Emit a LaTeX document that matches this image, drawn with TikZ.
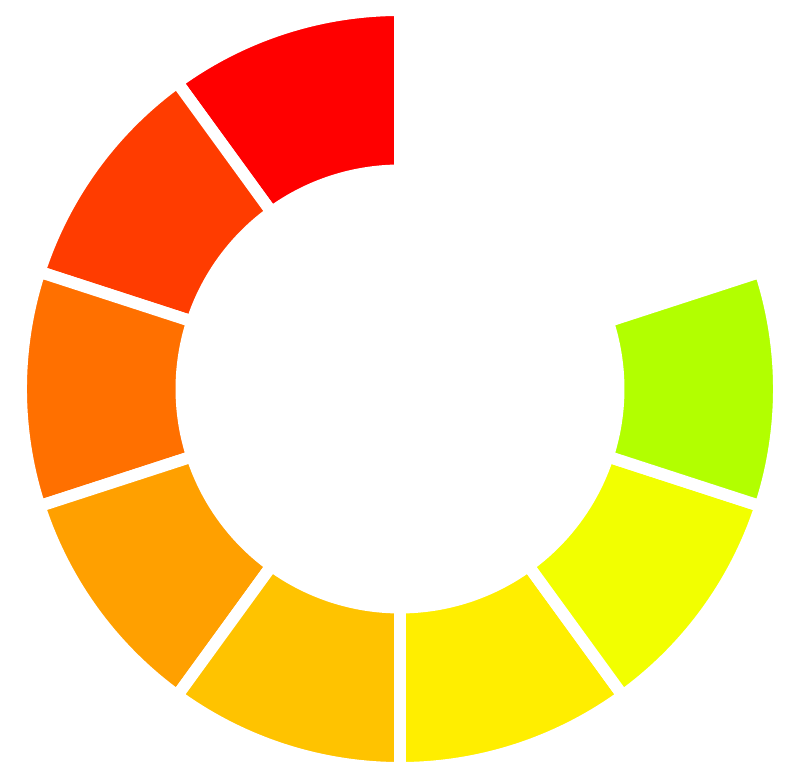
\documentclass[tikz,border=0pt]{standalone}
\usepackage{xcolor}
\usepackage{tikz}
\usetikzlibrary{
  arrows.meta,
  positioning,
  calc,
}
\definecolor{segred}{HTML}{FF0000}
\definecolor{segscarlet}{HTML}{FF3C00}
\definecolor{segorange}{HTML}{FF7000}
\definecolor{segamber}{HTML}{FFA000}
\definecolor{seggold}{HTML}{FFC300}
\definecolor{segyellow}{HTML}{FFEE00}
\definecolor{seglemon}{HTML}{F2FF00}
\definecolor{seglime}{HTML}{B2FF00}

\begin{document}
\begin{tikzpicture}[seg/.style={draw=white, line width=6.8pt, line join=miter}]
  \useasboundingbox (-8.0,-7.82) rectangle (7.9,7.78);
  % ring of sectors, 36 degrees each, outer 7.58 / inner 4.37
  \filldraw[seg, fill=segred]     (90:7.58)  arc[start angle=90,  end angle=126, radius=7.58] -- (126:4.37) arc[start angle=126, end angle=90,  radius=4.37] -- cycle;
  \filldraw[seg, fill=segscarlet] (126:7.58) arc[start angle=126, end angle=162, radius=7.58] -- (162:4.37) arc[start angle=162, end angle=126, radius=4.37] -- cycle;
  \filldraw[seg, fill=segorange]  (162:7.58) arc[start angle=162, end angle=198, radius=7.58] -- (198:4.37) arc[start angle=198, end angle=162, radius=4.37] -- cycle;
  \filldraw[seg, fill=segamber]   (198:7.58) arc[start angle=198, end angle=234, radius=7.58] -- (234:4.37) arc[start angle=234, end angle=198, radius=4.37] -- cycle;
  \filldraw[seg, fill=seggold]    (234:7.58) arc[start angle=234, end angle=270, radius=7.58] -- (270:4.37) arc[start angle=270, end angle=234, radius=4.37] -- cycle;
  \filldraw[seg, fill=segyellow]  (270:7.58) arc[start angle=270, end angle=306, radius=7.58] -- (306:4.37) arc[start angle=306, end angle=270, radius=4.37] -- cycle;
  \filldraw[seg, fill=seglemon]   (306:7.58) arc[start angle=306, end angle=342, radius=7.58] -- (342:4.37) arc[start angle=342, end angle=306, radius=4.37] -- cycle;
  \filldraw[seg, fill=seglime]    (342:7.58) arc[start angle=342, end angle=378, radius=7.58] -- (378:4.37) arc[start angle=378, end angle=342, radius=4.37] -- cycle;
\end{tikzpicture}
\end{document}
